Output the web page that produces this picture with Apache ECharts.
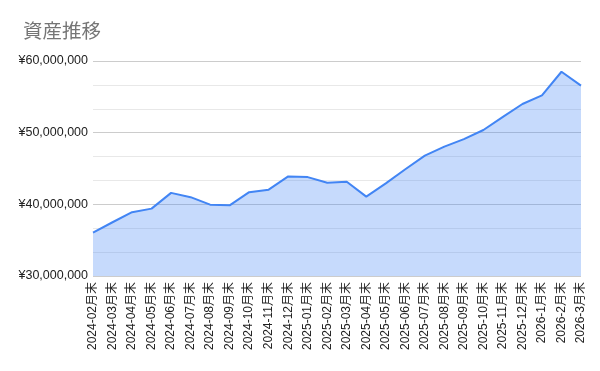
<!DOCTYPE html>
<html><head><meta charset="utf-8">
<script src="https://cdn.jsdelivr.net/npm/echarts@6/dist/echarts.min.js"></script>
<style>html,body{margin:0;padding:0;background:#fff}#c{width:600px;height:371px}</style>
</head><body><div id="c"></div>
<script>
const categories = ['2024-02月末','2024-03月末','2024-04月末','2024-05月末','2024-06月末','2024-07月末','2024-08月末','2024-09月末','2024-10月末','2024-11月末','2024-12月末','2025-01月末','2025-02月末','2025-03月末','2025-04月末','2025-05月末','2025-06月末','2025-07月末','2025-08月末','2025-09月末','2025-10月末','2025-11月末','2025-12月末','2026-1月末','2026-2月末','2026-3月末'];
const assets = [36040000,37500000,38900000,39400000,41600000,41000000,39950000,39860000,41700000,42050000,43900000,43800000,43000000,43160000,41070000,42930000,44900000,46800000,48050000,49100000,50370000,52200000,54000000,55200000,58500000,56560000];
const yTicks = [30000000,40000000,50000000,60000000];
const title = '資産推移';

const chart = echarts.init(document.getElementById('c'));
chart.setOption({
  animation:false,
  title:{text:title,left:18,top:16,textStyle:{fontFamily:'Noto Sans CJK JP',fontSize:19.5,fontWeight:'normal',color:'#757575'}},
  grid:{left:93,right:19,top:61,bottom:95},
  xAxis:{type:'category',data:categories,boundaryGap:false,
    axisLine:{show:false},axisTick:{show:false},
    axisLabel:{interval:0,rotate:90,fontSize:12,color:'#222',fontFamily:'Liberation Sans, Noto Sans CJK JP',margin:6}},
  yAxis:{type:'value',min:yTicks[0],max:yTicks[yTicks.length-1],interval:10000000,
    axisLine:{show:false},axisTick:{show:false},
    axisLabel:{fontSize:12.5,color:'#222',fontFamily:'Liberation Sans',margin:5,
      formatter:v=>'¥'+v.toLocaleString('en-US')},
    splitLine:{lineStyle:{color:'#cccccc',width:1}},
    minorTick:{show:false,splitNumber:3},
    minorSplitLine:{show:true,lineStyle:{color:'#e8e8e8',width:1}}},
  series:[{type:'line',data:assets,symbol:'none',
    lineStyle:{color:'#4285f4',width:2},
    areaStyle:{color:'#4285f4',opacity:0.3}}]
});
</script></body></html>
